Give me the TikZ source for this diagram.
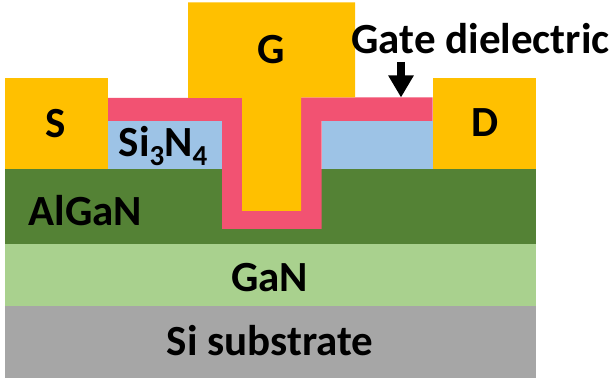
\documentclass[tikz,border=0pt]{standalone}
\usepackage{fontspec}
\setmainfont{Carlito}
\usetikzlibrary{arrows.meta}
\definecolor{metal}{HTML}{FFC000}
\definecolor{algan}{HTML}{548235}
\definecolor{gan}{HTML}{A9D18E}
\definecolor{subst}{HTML}{A6A6A6}
\definecolor{sin}{HTML}{9DC3E6}
\definecolor{diel}{HTML}{F25272}
\tikzset{
  lbl/.style={inner sep=0pt,anchor=base,text=black,font=\fontsize{43}{45}\selectfont\bfseries}
}
\newcommand{\lowdigit}[1]{\raisebox{-9pt}{\fontsize{29}{29}\selectfont #1}}
\begin{document}
\begin{tikzpicture}[x=1pt,y=-1pt]
\useasboundingbox (0,0) rectangle (610,379);
\fill[white] (0,0) rectangle (610,379);
% substrate layers
\fill[subst] (4.5,305.5) rectangle (536,378);
\fill[gan] (4.5,244) rectangle (536,305.5);
\fill[algan] (4.5,169.5) rectangle (536,244);
% passivation
\fill[sin] (108,121) rectangle (222,169.5);
\fill[sin] (321.5,121) rectangle (432.5,169.5);
% dielectric
\fill[diel] (108,98) -- (242,98) -- (242,211) -- (301,211) -- (301,97.5) -- (432.5,97.5) -- (432.5,121)
  -- (321.5,121) -- (321.5,229) -- (222,229) -- (222,121) -- (108,121) -- cycle;
% metals
\fill[metal] (4.5,78.5) rectangle (108,169.5);
\fill[metal] (432.5,78) rectangle (536,169.5);
\fill[metal] (188,2.5) -- (355,2.5) -- (355,97.5) -- (301,97.5) -- (301,211) -- (242,211) -- (242,98) -- (188,98) -- cycle;
% labels
\node[lbl] (s) at (56,138) {S};
\node[lbl] (g) at (271.5,64) {G};
\node[lbl] (d) at (485,137) {D};
\node[lbl] (sn) at (163,157) {Si\lowdigit{3}N\lowdigit{4}};
\node[lbl] (al) at (85.5,226) {AlGaN};
\node[lbl] (ga) at (269.5,291) {GaN};
\node[lbl] (si) at (270,355) {Si substrate};
\node[lbl] (gd) at (480.5,54) {Gate dielectric};
\coordinate (at) at (401,62);
\coordinate (ah) at (401,97.5);
\draw[line width=8pt,-{Triangle[length=22pt,width=24pt]}] (at) -- (ah);
\end{tikzpicture}
\end{document}
